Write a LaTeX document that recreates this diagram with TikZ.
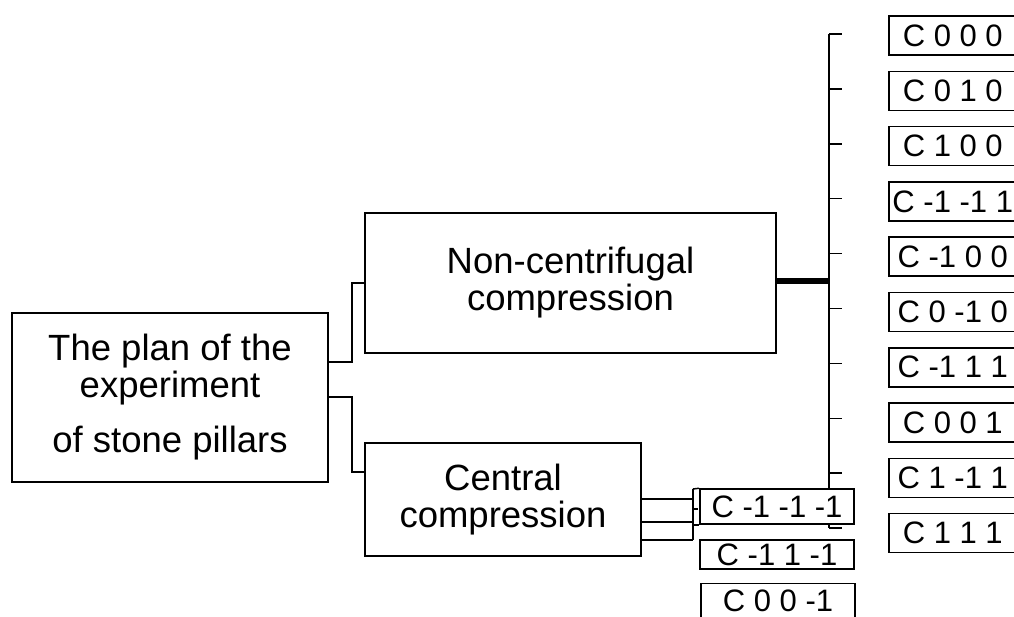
\documentclass[tikz,border=0pt]{standalone}
\usepackage{fontspec}
\setmainfont{Liberation Sans}
\begin{document}
\begin{tikzpicture}[x=1pt,y=-1pt,
  line width=1.5pt,
  box/.style={draw, line width=1.5pt, fill=white, inner sep=0pt, align=center},
  bigtxt/.style={font=\fontsize{36.5}{37}\selectfont},
  codetxt/.style={font=\fontsize{31}{33}\selectfont},
  codebox/.style={box, codetxt, minimum width=144pt, minimum height=39pt, anchor=west},
  smallbox/.style={box, codetxt, minimum width=154pt},
  thick link/.style={line width=6pt}]
\useasboundingbox (0,0) rectangle (1014,617);
\clip (0,0) rectangle (1014,617);

% vertical spine with its ticks
\coordinate (spTop) at (829,34);
\coordinate (spBot) at (829,528);
\draw (spTop) -- (spBot);
\foreach \i in {0,...,9}{
  \coordinate (tk\i) at (829,{34+54.9*\i});
  \draw (tk\i) -- ++(13,0);
}

% root and first level
\node[box, bigtxt, minimum width=316pt, minimum height=169pt] (plan) at (170,397.5)
  {The plan of the\\experiment\\[18pt]of stone pillars};
\node[box, bigtxt, minimum width=411pt, minimum height=140pt] (noncf) at (570.5,283)
  {Non-centrifugal\\compression};
\node[box, bigtxt, minimum width=276pt, minimum height=113pt] (central) at (503,499.5)
  {Central\\compression};

% factor combinations of the non-centrifugal series (boxes run past the right edge)
\foreach \lab [count=\k from 0] in {C 0 0 0, C 0 1 0, C 1 0 0, C -1 -1 1, C -1 0 0,
                                    C 0 -1 0, C -1 1 1, C 0 0 1, C 1 -1 1, C 1 1 1}{
  \node[codebox] (r\k) at (888,{35.5+55.3*\k}) {\makebox[128pt]{\lab}\hspace{16pt}};
}

% factor combinations of the central series
\node[smallbox, minimum height=35pt] (b1) at (777,506.5) {C -1 -1 -1};
\node[smallbox, minimum height=29pt] (b2) at (777,554.5) {C -1 1 -1};
\node[smallbox, minimum height=35pt] (b3) at (778,601) {C 0 0 -1};

% connectors from the root
\draw (plan.east |- 0,362) -- (352,362) |- (noncf.west);
\draw (plan.east |- 0,397) -- (352,397) |- (central.west |- 0,472);

% heavy link into the spine
\draw[thick link] ([yshift=2pt]noncf.east) -- ([yshift=2pt]noncf.east -| spTop);

% bracket between the central box and its combinations
\coordinate (brk) at (693,489);
\draw (central.east |- 0,499) -- (brk |- 0,499);
\draw (central.east |- 0,522) -- (brk |- 0,522);
\draw (central.east |- 0,540) -- (brk |- 0,540);
\draw (brk) -- (brk |- 0,540);
\draw (brk) -- (b1.north west);
\draw (brk |- b1.south west) -- (b1.south west);
\draw (brk |- 0,509) -- ++(5,0);
\end{tikzpicture}
\end{document}
